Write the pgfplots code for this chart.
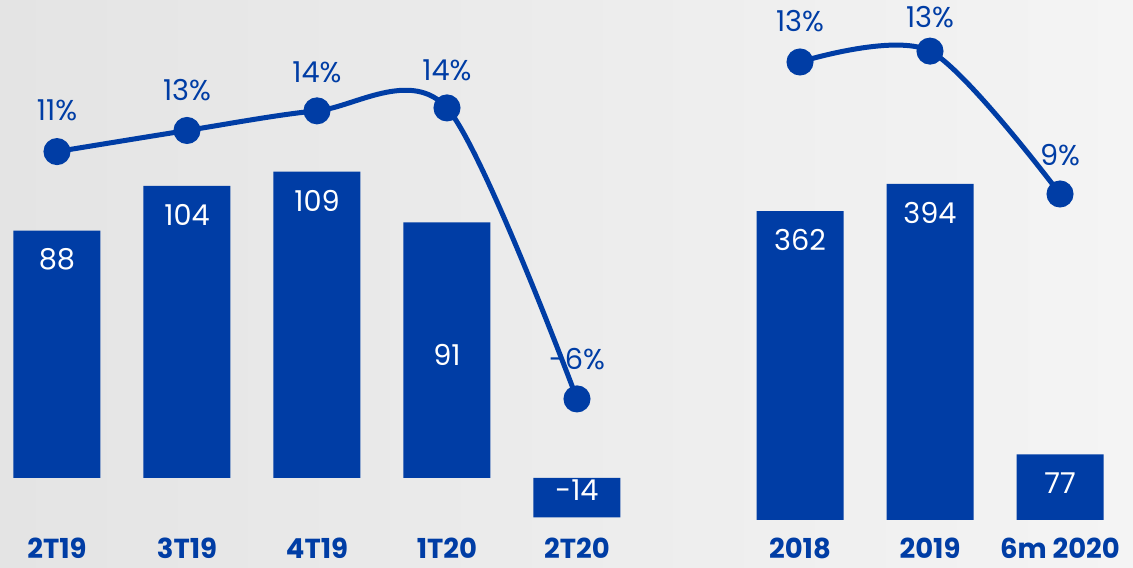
\documentclass[border=0pt]{standalone}
\usepackage{fontspec}
\setmainfont{Poppins}
\usepackage{pgfplots}
\pgfplotsset{compat=1.18}
\definecolor{barblue}{HTML}{003DA5}
\definecolor{bgA}{HTML}{E4E4E4}
\definecolor{bgB}{HTML}{F4F4F4}

% 1 px of the reference = 0.4pt
\pgfplotsset{
  base/.style={scale only axis, height=227.2pt, clip=false,
    axis line style={draw=none}, major tick style={draw=none}, ytick=\empty},
  bars/.style={base, xtick=data,
    xticklabel style={anchor=center, inner sep=0pt, yshift=7.8pt, text=barblue,
      font=\bfseries\fontsize{11}{12}\selectfont}},
  barplot/.style={ybar, fill=barblue, draw=none, bar width=34.8pt,
    point meta=explicit symbolic, nodes near coords,
    visualization depends on={\thisrow{s} \as \lshift},
    every node near coord/.append style={anchor=center, yshift=\lshift pt,
      text=white, font=\fontsize{11.5}{12}\selectfont}},
  lineplot/.style={barblue, line width=2pt, smooth, mark=*,
    mark options={fill=barblue, draw=barblue}, mark size=4.4pt,
    point meta=explicit symbolic, nodes near coords,
    visualization depends on={\thisrow{s} \as \pshift},
    every node near coord/.append style={anchor=center, yshift=\pshift pt,
      text=barblue, font=\fontsize{11.5}{12}\selectfont}},
  line/.style={base, hide axis},
}

\begin{document}
\begin{tikzpicture}
\useasboundingbox (0,0) rectangle (453.2pt,227.2pt);
\shade[left color=bgA, right color=bgB] (0,0) rectangle (453.2pt,227.2pt);

% quarterly
\begin{axis}[bars, at={(0,0)}, anchor=south west, width=260pt,
  xmin=-0.43846, xmax=4.56154, ymin=-32.03, ymax=170.11,
  xticklabels={2T19,3T19,4T19,1T20,2T20}]
\addplot[barplot] table[x=x, y=y, meta=lab] {
x y lab s
0 88 88 -11.6
1 104 104 -11.6
2 109 109 -11.6
3 91 91 -53.2
4 -14 -14 10.8
};
\end{axis}
\begin{axis}[line, at={(0,0)}, anchor=south west, width=260pt,
  xmin=-0.43846, xmax=4.56154, ymin=-17.62, ymax=21.42]
\addplot[lineplot] table[x=x, y=y, meta=lab] {
x y lab s
0 11.0 11\% 16.4
1 12.45 13\% 16
2 13.8 14\% 15.6
3 14.0 14\% 15.2
4 -6.0 -6\% 16
};
\end{axis}

% annual
\begin{axis}[bars, at={(260pt,0)}, anchor=south west, width=193.2pt,
  xmin=-1.1538, xmax=2.5615, ymin=-56.27, ymax=609.61,
  xticklabels={2018,2019,6m 2020}]
\addplot[barplot] table[x=x, y=y, meta=lab] {
x y lab s
0 362 362 -11.6
1 394 394 -11.6
2 77 77 -11.6
};
\end{axis}
\begin{axis}[line, at={(260pt,0)}, anchor=south west, width=193.2pt,
  xmin=-1.1538, xmax=2.5615, ymin=-2.333, ymax=14.879]
\addplot[lineplot] table[x=x, y=y, meta=lab] {
x y lab s
0 13.0 13\% 16.4
1 13.33 13\% 13.6
2 9.0 9\% 15.6
};
\end{axis}
\end{tikzpicture}
\end{document}
